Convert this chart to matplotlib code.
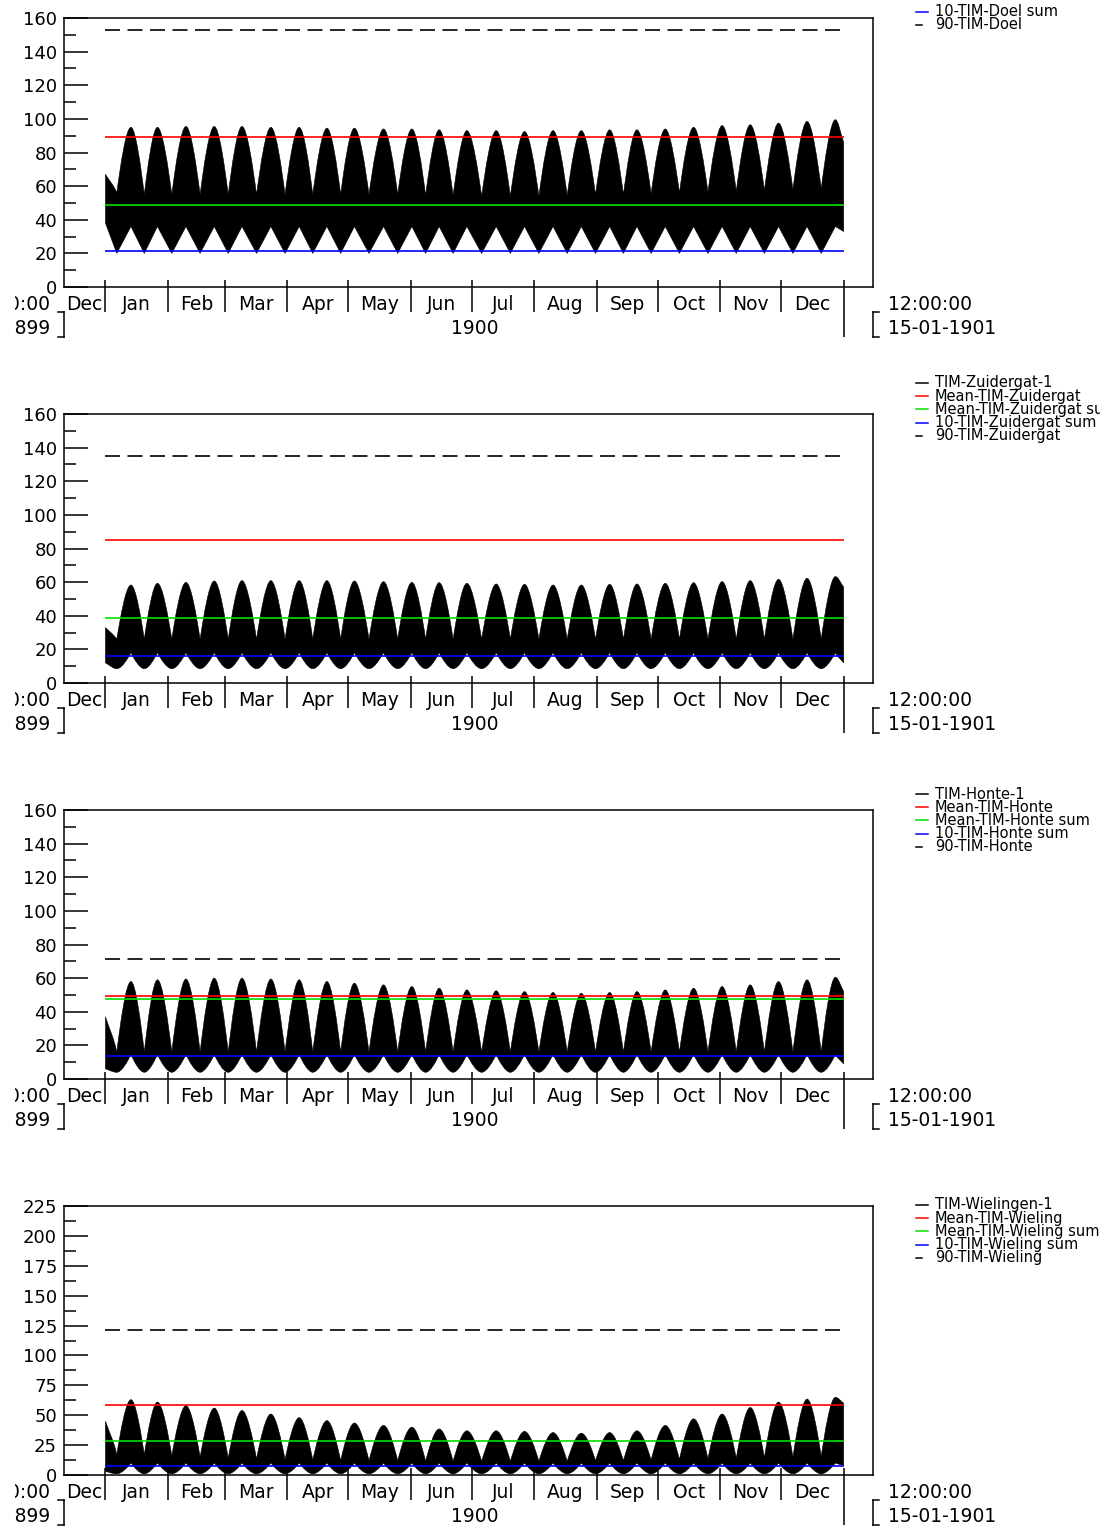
import numpy as np
import matplotlib
matplotlib.use('Agg')
from matplotlib import pyplot as plt
from matplotlib import transforms
from matplotlib.lines import Line2D
from matplotlib.path import Path
from matplotlib.patches import PathPatch

W, H = 1110, 1530

# time axis: days since 1900-01-01 00:00
month_names = ['Dec', 'Jan', 'Feb', 'Mar', 'Apr', 'May', 'Jun',
               'Jul', 'Aug', 'Sep', 'Oct', 'Nov', 'Dec']
month_starts = [-31, 0, 31, 59, 90, 120, 151, 181, 212, 243, 273, 304, 334, 365]
t_first, t_last = 0, 365
x_left, x_right = -20.5, 379.5
year_label = '1900'
left_labels = ['12:00:00', '11-12-1899']
right_labels = ['12:00:00', '15-01-1901']

# spring (max range) and neap (min range) moments
spring_days = [12.6, 25.7, 39.8, 53.8, 67.5, 81.8, 95.8, 109.5, 123.1, 137.5,
               151.5, 165.0, 178.7, 193.2, 207.2, 221.3, 235.3, 249.3, 262.8,
               276.8, 290.8, 304.9, 318.8, 332.8, 346.9, 360.9]
neap_days = [5.6, 19.2, 32.8, 46.8, 60.7, 74.7, 88.8, 102.5, 116.3, 130.3,
             144.5, 158.3, 171.9, 186.0, 200.2, 214.3, 228.3, 242.3, 256.1,
             269.8, 283.8, 297.9, 311.9, 325.8, 339.9, 353.9]

# --- Doel
doel_names = ['TIM-Doel-1', 'Mean-TIM-Doel', 'Mean-TIM-Doel sum',
              '10-TIM-Doel sum', '90-TIM-Doel']
doel_levels = [89.3, 48.8, 21.4, 152.8]          # mean, mean sum, 10%, 90%
doel_hi_spring = [95, 95, 95.5, 95.5, 95.5, 95, 95, 94.5, 94.5, 94, 94, 93.5, 93,
                  93, 92.5, 93, 93, 93.5, 93.5, 94, 95, 96, 96.5, 97.5, 98.5, 99.5]
doel_hi_neap = [56, 55, 55, 55, 55, 55, 55, 55, 55, 55, 55, 54.5, 54.5,
                54, 54, 54, 54.5, 55, 55, 55.5, 56, 56.5, 57, 57.5, 58, 58.5]
doel_lo_spring = 36
doel_lo_neap = 20
doel_ends = [67, 38, 86, 33]                     # hi/lo at start, hi/lo at end

# --- Zuidergat
zuid_names = ['TIM-Zuidergat-1', 'Mean-TIM-Zuidergat', 'Mean-TIM-Zuidergat sum',
              '10-TIM-Zuidergat sum', '90-TIM-Zuidergat']
zuid_levels = [85.1, 38.8, 16.2, 135.0]
zuid_hi_spring = [58.3, 59.3, 59.9, 60.7, 60.9, 60.9, 60.9, 60.9, 60.7, 60.3, 59.9,
                  59.7, 59.3, 58.9, 58.7, 58.3, 58.3, 58.7, 58.9, 59.3, 59.7, 60.3,
                  60.9, 61.7, 62.3, 63.3]
zuid_hi_neap = 26
zuid_lo_spring = 18
zuid_lo_neap = 8.5
zuid_ends = [33, 12, 57, 12]

# --- Honte
honte_names = ['TIM-Honte-1', 'Mean-TIM-Honte', 'Mean-TIM-Honte sum',
               '10-TIM-Honte sum', '90-TIM-Honte']
honte_levels = [49.1, 47.6, 13.7, 71.2]
honte_hi_spring = [58, 59, 59.5, 60, 60, 59.5, 59, 58, 57, 56, 55, 54, 53, 52.5,
                   52, 51.5, 51, 51.5, 52, 53, 54, 55, 56, 58, 59, 60.5]
honte_hi_neap = 16
honte_lo_spring = 14.5
honte_lo_neap = 4
honte_ends = [37, 6, 52, 9]

# --- Wielingen
wiel_names = ['TIM-Wielingen-1', 'Mean-TIM-Wieling', 'Mean-TIM-Wieling sum',
              '10-TIM-Wieling sum', '90-TIM-Wieling']
wiel_levels = [58.5, 28.4, 7.5, 121.3]
wiel_hi_spring = [63, 61, 58, 56, 54, 51, 48, 45.5, 43.5, 41.5, 40, 38.5, 37,
                  37, 36.5, 35.5, 35, 35.5, 37, 41.5, 47, 51, 56.5, 61, 63.5, 65]
wiel_hi_neap = [17, 17, 16, 15, 14, 13.5, 13, 12.5, 12, 12, 12, 11.5, 11.5,
                11.5, 11.5, 11.5, 11.5, 12, 12, 12.5, 13, 13.5, 14, 14.5, 15, 15.5]
wiel_lo_spring = 10
wiel_lo_neap = 1
wiel_ends = [45, 3, 60, 8]

panels = [
    dict(names=doel_names, levels=doel_levels, hs=doel_hi_spring, hn=doel_hi_neap,
         ls=doel_lo_spring, ln=doel_lo_neap, ends=doel_ends, ymax=160, major=20,
         round_low=False),
    dict(names=zuid_names, levels=zuid_levels, hs=zuid_hi_spring, hn=zuid_hi_neap,
         ls=zuid_lo_spring, ln=zuid_lo_neap, ends=zuid_ends, ymax=160, major=20,
         round_low=True),
    dict(names=honte_names, levels=honte_levels, hs=honte_hi_spring, hn=honte_hi_neap,
         ls=honte_lo_spring, ln=honte_lo_neap, ends=honte_ends, ymax=160, major=20,
         round_low=True),
    dict(names=wiel_names, levels=wiel_levels, hs=wiel_hi_spring, hn=wiel_hi_neap,
         ls=wiel_lo_spring, ln=wiel_lo_neap, ends=wiel_ends, ymax=225, major=25,
         round_low=True),
]

legend_colors = ['black', '#ff0000', '#00e000', '#0000ff', 'black']
n = len(spring_days)
t = np.concatenate([[t_first], np.column_stack([neap_days, spring_days]).ravel(), [t_last]])


def envelope(start, spring, neap, end):
    vals = np.column_stack([np.broadcast_to(neap, (n,)), np.broadcast_to(spring, (n,))])
    return np.concatenate([[start], vals.ravel(), [end]])


def control(p, q, kind):
    # bezier handle at knot p pointing towards q: 's' sharp cusp, 'r' rounded, None straight
    (x0, y0), (x1, y1) = p, q
    if kind == 's':
        return (x0 + 0.25 * (x1 - x0), y0 + 0.4 * (y1 - y0))
    if kind == 'r':
        return (x0 + 0.35 * (x1 - x0), y0)
    return (x0 + (x1 - x0) / 3, y0 + (y1 - y0) / 3)


def curve(ts, vs, kinds):
    verts = []
    for i in range(len(ts) - 1):
        p, q = (ts[i], vs[i]), (ts[i + 1], vs[i + 1])
        verts += [control(p, q, kinds[i]), control(q, p, kinds[i + 1]), q]
    return verts


def band_path(hi, lo, round_low):
    kind_hi = [None] + ['s', 'r'] * n + [None]
    kind_lo = [None] + (['r', 's'] if round_low else [None, None]) * n + [None]
    upper = curve(t, hi, kind_hi)
    lower = curve(t[::-1], lo[::-1], kind_lo[::-1])
    verts = [(t[0], hi[0])] + upper + [(t[-1], lo[-1])] + lower + [(t[0], hi[0])]
    codes = ([Path.MOVETO] + [Path.CURVE4] * len(upper) + [Path.LINETO]
             + [Path.CURVE4] * len(lower) + [Path.CLOSEPOLY])
    return Path(verts, codes)


fig = plt.figure(figsize=(W / 100, H / 100), dpi=100)
# the original picture is cropped a little on the left, top and right
clip = transforms.TransformedBbox(
    transforms.Bbox.from_extents(15 / W, 0, 1100 / W, 1 - 4 / H), fig.transFigure)


def fig_text(x, y, s, **kw):
    txt = fig.text(x, y, s, **kw)
    txt.set_clip_box(clip)
    txt.set_clip_on(True)
    return txt


for k, p in enumerate(panels):
    bot = 287 + 396 * k
    ax = fig.add_axes([64 / W, 1 - bot / H, 809 / W, 269 / H])

    hi = envelope(p['ends'][0], p['hs'], p['hn'], p['ends'][2])
    lo = envelope(p['ends'][1], p['ls'], p['ln'], p['ends'][3])
    ax.add_patch(PathPatch(band_path(hi, lo, p['round_low']), fc='black', ec='black', lw=0.4))

    mean, msum, p10, p90 = p['levels']
    ax.hlines(mean, t_first, t_last, colors=legend_colors[1], lw=1.2)
    ax.hlines(msum, t_first, t_last, colors=legend_colors[2], lw=1.2)
    ax.hlines(p10, t_first, t_last, colors=legend_colors[3], lw=1.2)
    ax.hlines(p90, t_first, t_last, colors='black', lw=1.2, linestyles=(0, (9, 4.5)))

    ax.set_xlim(x_left, x_right)
    ax.set_ylim(0, p['ymax'])
    ax.set_yticks(np.arange(0, p['ymax'] + 1, p['major']))
    ax.set_yticks(np.arange(0, p['ymax'] + 1, p['major'] / 2), minor=True)
    ax.tick_params(axis='y', which='major', direction='in', length=17, width=1.1,
                   labelsize=13, pad=5)
    ax.tick_params(axis='y', which='minor', direction='in', length=8.5, width=1.1)
    ax.set_xticks([])
    for s in ax.spines.values():
        s.set_linewidth(1.1)

    # date axis drawn below the box
    bt = transforms.blended_transform_factory(ax.transData, fig.transFigure)
    ba = transforms.blended_transform_factory(ax.transAxes, fig.transFigure)
    y_in = 1 - (bot - 7) / H
    y1 = 1 - (bot + 25) / H
    y2 = 1 - (bot + 50) / H
    ax.vlines(month_starts[1:-1], y1, y_in, transform=bt, colors='black', lw=1.1, clip_on=False)
    ax.vlines(month_starts[-1], y2, y_in, transform=bt, colors='black', lw=1.1, clip_on=False)
    for i, name in enumerate(month_names):
        a = max(month_starts[i], x_left)
        b = min(month_starts[i + 1], x_right)
        ax.text((a + b) / 2, 1 - (bot + 18) / H, name, transform=bt,
                ha='center', va='center', fontsize=13.5)
    ax.text((t_first + t_last) / 2, 1 - (bot + 42) / H, year_label, transform=bt,
            ha='center', va='center', fontsize=13.5)

    tk = 6 / 809
    for xs, ys in [([0, 0], [y1, y2]), ([-tk, 0], [y1, y1]), ([-tk, 0], [y2, y2]),
                   ([1, 1], [y1, y2]), ([1, 1 + tk], [y1, y1]), ([1, 1 + tk], [y2, y2])]:
        ax.plot(xs, ys, transform=ba, color='black', lw=1.1, clip_on=False)
    for j in range(2):
        fig_text(50 / W, 1 - (bot + 18 + 24 * j) / H, left_labels[j],
                 ha='right', va='center', fontsize=13.5)
        fig_text(888 / W, 1 - (bot + 18 + 24 * j) / H, right_labels[j],
                 ha='left', va='center', fontsize=13.5)

    # legend at the right of each panel
    top_leg = -28 + 411 * k
    for i, (name, col) in enumerate(zip(p['names'], legend_colors)):
        y = 1 - (top_leg + 13.2 * i) / H
        x_end = 922 if i == 4 else 928
        if top_leg + 13.2 * i > 4:
            fig.add_artist(Line2D([916 / W, x_end / W], [y, y], color=col, lw=1.1))
        fig_text(935 / W, y, name, ha='left', va='center', fontsize=10.5)

fig.savefig('out.png', dpi=100)
